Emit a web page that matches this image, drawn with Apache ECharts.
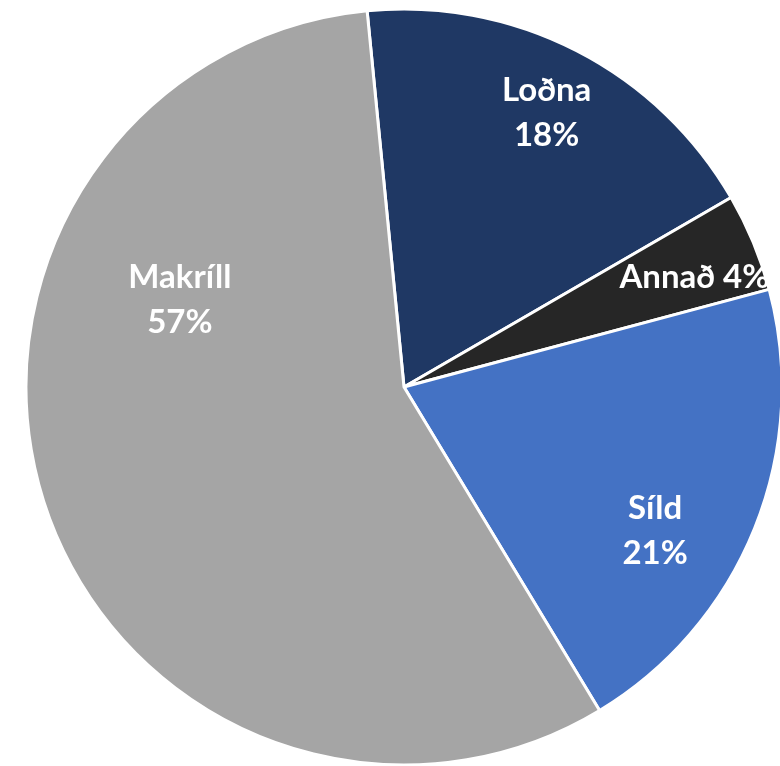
<!DOCTYPE html>
<html>
<head>
<meta charset="utf-8">
<script src="https://cdn.jsdelivr.net/npm/echarts@6/dist/echarts.min.js"></script>
<style>
  html, body { margin: 0; padding: 0; background: #fff; }
  #chart { width: 780px; height: 766px; }
</style>
</head>
<body>
<div id="chart"></div>
<script>
// flokkar og hlutföll (%)
const categories = ['Loðna', 'Annað', 'Síld', 'Makríll']
const values = [18.2, 4.2, 20.5, 57.1]
const colors = ['#1F3864', '#262626', '#4472C4', '#A5A5A5']
// label shift from the default inner spot, like the hand placed Excel labels
const labelShift = [[55, -103], [113, -36], [73, 72], [-42, -148]]

const chart = echarts.init(document.getElementById('chart'))

const option = {
  animation: false,
  series: [
    {
      type: 'pie',
      center: [404, 387],
      radius: [0, 378],
      startAngle: 95.6,
      clockwise: true,
      avoidLabelOverlap: false,
      itemStyle: {
        borderColor: '#fff',
        borderWidth: 3
      },
      label: {
        show: true,
        position: 'inner',
        color: '#fff',
        fontFamily: 'Lato',
        fontWeight: 'bold',
        fontSize: 33,
        lineHeight: 45,
        formatter (p) {
          const pct = Math.round(p.percent) + '%'
          return p.dataIndex === 1 ? p.name + ' ' + pct : p.name + '\n' + pct
        }
      },
      labelLine: { show: false },
      labelLayout (params) {
        const s = labelShift[params.dataIndex]
        return { dx: s[0], dy: s[1] }
      },
      data: categories.map((name, i) => ({
        name,
        value: values[i],
        itemStyle: { color: colors[i] }
      }))
    }
  ]
}

chart.setOption(option)
</script>
</body>
</html>
